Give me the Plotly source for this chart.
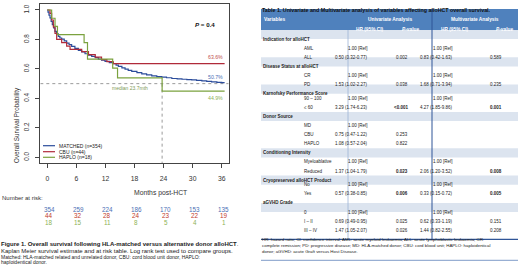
import plotly.graph_objects as go

W, H = 520, 279
def px(x): return x / W
def py(y): return 1 - y / H

# ---------------- Kaplan-Meier data ----------------
matched_t = [0, 0.15, 0.35, 0.56, 0.8, 1.04, 1.3, 1.59, 1.9, 2.28, 2.6, 2.97, 3.5, 4.0, 4.5, 5.03, 5.7,
             6.41, 7.1, 7.79, 8.5, 9.17, 9.9, 10.54, 11.2, 11.92, 12.8, 13.64, 14.2, 14.67, 15.4,
             16.05, 16.7, 17.43, 18.5, 19.5, 20.5, 21.56, 22.6, 23.63, 24.6, 25.7, 26.8, 27.8,
             28.8, 29.8, 30.8, 31.9, 32.9, 33.9, 35.0, 36.0, 36.6]
matched_s = [1.0, 0.985, 0.965, 0.946, 0.922, 0.9, 0.878, 0.855, 0.838, 0.821, 0.81, 0.802, 0.79,
             0.775, 0.765, 0.753, 0.74, 0.725, 0.715, 0.703, 0.694, 0.685, 0.676, 0.667, 0.659,
             0.651, 0.643, 0.635, 0.626, 0.617, 0.607, 0.598, 0.59, 0.583, 0.575, 0.567, 0.56,
             0.553, 0.548, 0.544, 0.54, 0.535, 0.532, 0.53, 0.528, 0.526, 0.522, 0.519, 0.515,
             0.512, 0.509, 0.507, 0.507]
cbu_t = [0, 0.56, 0.9, 1.25, 1.59, 1.94, 2.97, 4.0, 4.7, 7.1, 8.5, 9.9, 11.2, 12.3, 13.6, 36.6]
cbu_s = [1.0, 0.977, 0.932, 0.886, 0.841, 0.8, 0.778, 0.755, 0.733, 0.718, 0.697, 0.68, 0.663,
         0.65, 0.636, 0.636]
haplo_t = [0, 0.9, 1.6, 2.1, 7.6, 8.3, 13.5, 14.5, 23.7, 36.6]
haplo_s = [1.0, 0.944, 0.889, 0.833, 0.778, 0.667, 0.606, 0.539, 0.449, 0.449]

group_names = ["MATCHED (n=354)", "CBU (n=44)", "HAPLO (n=18)"]
group_colors = ["#2B4C9B", "#B02A3A", "#7BA23F"]
end_labels = ["50.7%", "63.6%", "44.9%"]
median_haplo = 23.7
p_value_text = "0.4"

risk_times = [0, 6, 12, 18, 24, 30, 36]
risk_matched = [354, 259, 224, 186, 170, 153, 135]
risk_cbu = [44, 32, 28, 24, 23, 22, 19]
risk_haplo = [18, 15, 11, 8, 5, 4, 1]
risk_colors = ["#4A6FB5", "#C0392B", "#8DB255"]

x_ticks = [0, 6, 12, 18, 24, 30, 36]
y_ticks = [0.0, 0.2, 0.4, 0.6, 0.8, 1.0]

# ---------------- Table data ----------------
row_labels = ["Indication for alloHCT", "AML", "ALL",
              "Disease Status at alloHCT", "CR", "PD",
              "Karnofsky Performance Score", "90 \u2013 100", "\u2264 60",
              "Donor Source", "MD", "CBU", "HAPLO",
              "Conditioning Intensity", "Myeloablative", "Reduced",
              "Cryopreserved alloHCT Product", "No", "Yes",
              "aGVHD Grade", "0", "I \u2013 II", "III \u2013 IV"]
row_is_section = [1, 0, 0, 1, 0, 0, 1, 0, 0, 1, 0, 0, 0, 1, 0, 0, 1, 0, 0, 1, 0, 0, 0]
uni_hr = ["", "1.00 [Ref]", "0.50 (0.32-0.77)", "", "1.00 [Ref]", "1.53 (1.02-2.27)",
          "", "1.00 [Ref]", "3.29 (1.74-6.23)", "", "1.00 [Ref]", "0.75 (0.47-1.22)",
          "1.08 (0.57-2.04)", "", "1.00 [Ref]", "1.37 (1.04-1.79)", "", "1.00 [Ref]",
          "0.57 (0.38-0.85)", "", "1.00 [Ref]", "0.69 (0.49-0.95)", "1.47 (1.05-2.07)"]
uni_p = ["", "", "0.002", "", "", "0.038", "", "", "<0.001", "", "", "0.253", "0.822",
         "", "", "0.023", "", "", "0.006", "", "", "0.025", "0.026"]
uni_sig = [0, 0, 0, 0, 0, 0, 0, 0, 1, 0, 0, 0, 0, 0, 0, 1, 0, 0, 1, 0, 0, 0, 0]
multi_hr = ["", "1.00 [Ref]", "0.83 (0.42-1.63)", "", "1.00 [Ref]", "1.68 (0.71-3.94)",
            "", "1.00 [Ref]", "4.27 (1.85-9.86)", "", "", "", "", "", "1.00 [Ref]",
            "2.06 (1.20-3.52)", "", "1.00 [Ref]", "0.33 (0.15-0.72)", "", "1.00 [Ref]",
            "0.62 (0.33-1.19)", "1.44 (0.82-2.55)"]
multi_p = ["", "", "0.589", "", "", "0.235", "", "", "0.001", "", "", "", "", "", "",
           "0.008", "", "", "0.005", "", "", "0.151", "0.208"]
multi_sig = [0, 0, 0, 0, 0, 0, 0, 0, 1, 0, 0, 0, 0, 0, 0, 1, 0, 0, 1, 0, 0, 0, 0]

table_title = "Table 1. Univariate and Multivariate analysis of variables affecting alloHCT overall survival."
footnote_lines = [
    "HR: hazard ratio; CI: confidence interval; AML: acute myeloid leukaemia; ALL: acute lymphoblastic leukaemia; CR:",
    "complete remission; PD: progressive disease; MD: HLA-matched donor; CBU: cord blood unit; HAPLO: haploidentical",
    "donor; aGVHD: acute Graft versus Host Disease.",
]
caption_lines = [
    "<b>Figure 1. Overall survival following HLA-matched versus alternative donor alloHCT</b>.",
    "Kaplan Meier survival estimate and at risk table. Log rank test used to compare groups.",
    "Matched: HLA-matched related and unrelated donor, CBU: cord blood unit donor, HAPLO:",
    "haploidentical donor.",
]

FONT = "Liberation Sans"
fig = go.Figure()

# reference lines (median / 50%)
fig.add_trace(go.Scatter(x=[-1.44, 37.44], y=[0.5, 0.5], mode="lines",
                         line=dict(color="#9a9a9a", width=1, dash="dot"), hoverinfo="skip", showlegend=False))
fig.add_trace(go.Scatter(x=[median_haplo, median_haplo], y=[0.5, -0.04], mode="lines",
                         line=dict(color="#9a9a9a", width=1, dash="dot"), hoverinfo="skip", showlegend=False))

for t, s, c, n in [(matched_t, matched_s, group_colors[0], group_names[0]),
                   (cbu_t, cbu_s, group_colors[1], group_names[1]),
                   (haplo_t, haplo_s, group_colors[2], group_names[2])]:
    fig.add_trace(go.Scatter(x=t, y=s, mode="lines", name=n, showlegend=False,
                             line=dict(color=c, width=1.2, shape="hv"), hoverinfo="skip"))

ann = []
shapes = []

# end-of-curve labels
ann.append(dict(x=36.6, y=0.68, xref="x", yref="y", text=end_labels[1], showarrow=False,
                xanchor="right", font=dict(family=FONT, size=5.2, color="#C0504D")))
ann.append(dict(x=36.6, y=0.544, xref="x", yref="y", text=end_labels[0], showarrow=False,
                xanchor="right", font=dict(family=FONT, size=5.2, color="#4A6FB5")))
ann.append(dict(x=36.6, y=0.405, xref="x", yref="y", text=end_labels[2], showarrow=False,
                xanchor="right", font=dict(family=FONT, size=5.2, color="#8DB255")))
ann.append(dict(x=median_haplo - 2.5, y=0.469, xref="x", yref="y",
                text="median %smth" % median_haplo, showarrow=False, xanchor="right",
                font=dict(family=FONT, size=5.0, color="#7E9A55")))
ann.append(dict(x=px(205), y=py(19), xref="paper", yref="paper",
                text="<b><i>P</i> = %s</b>" % p_value_text, showarrow=False,
                font=dict(family=FONT, size=6.2, color="#111")))

# legend (manual, compact)
for i, (n, c) in enumerate(zip(group_names, group_colors)):
    yy = [145.7, 151.7, 157.3][i]
    shapes.append(dict(type="line", xref="paper", yref="paper", x0=px(43), x1=px(55),
                       y0=py(yy), y1=py(yy), line=dict(color=c, width=1.2)))
    ann.append(dict(x=px(56.5), y=py(yy), xref="paper", yref="paper", text=n, showarrow=False,
                    xanchor="left", font=dict(family=FONT, size=5, color="#222")))

# axis titles
ann.append(dict(x=px(11), y=py(85), xref="paper", yref="paper", text="Overall Survival Probability",
                textangle=-90, showarrow=False, font=dict(family=FONT, size=6.3, color="#333")))
ann.append(dict(x=px(132), y=py(199), xref="paper", yref="paper", text="Months post-HCT",
                showarrow=False, font=dict(family=FONT, size=6.8, color="#333")))

# risk table
ann.append(dict(x=px(0), y=py(203), xref="paper", yref="paper", text="Number at risk:",
                showarrow=False, xanchor="left", font=dict(family=FONT, size=6, color="#333")))
for r, (vals, c) in enumerate(zip([risk_matched, risk_cbu, risk_haplo], risk_colors)):
    yy = [214.5, 221, 227.5][r]
    for t, v in zip(risk_times, vals):
        ann.append(dict(x=t + 0.4, y=py(yy), xref="x", yref="paper", text=str(v), showarrow=False,
                        font=dict(family=FONT, size=6.3, color=c)))

# caption
cap_y = [249, 255.5, 261.5, 267]
cap_sz = [6.0, 6.0, 5.0, 5.0]
for line, yy, sz in zip(caption_lines, cap_y, cap_sz):
    ann.append(dict(x=px(-1), y=py(yy), xref="paper", yref="paper", text=line, showarrow=False,
                    xanchor="left", font=dict(family=FONT, size=sz, color="#222")))

# ---------------- Table ----------------
TL, TR = 261, 518
HY0, HY1 = 9, 30
ROW_H = 9.1
HEADER_BLUE = "#4F81BD"
SECTION_FILL = "#DCE4EF"

ann.append(dict(x=px(260), y=py(4.5), xref="paper", yref="paper", text="<b>%s</b>" % table_title,
                showarrow=False, xanchor="left", font=dict(family=FONT, size=5.3, color="#111")))
shapes.append(dict(type="rect", xref="paper", yref="paper", x0=px(TL), x1=px(TR), y0=py(HY1), y1=py(HY0),
                   fillcolor=HEADER_BLUE, line=dict(width=0), layer="below"))
hdr_font = dict(family=FONT, size=4.8, color="white")
for txt, x, yy, anc in [("<b>Variables</b>", 262, 14.5, "left"),
                        ("<b>Univariate Analysis</b>", 390, 14.5, "center"),
                        ("<b>Multivariate Analysis</b>", 475, 14.5, "center"),
                        ("<b>HR (95% CI)</b>", 370, 25, "center"),
                        ("<b><i>P</i>-value</b>", 410, 25, "center"),
                        ("<b>HR (95% CI)</b>", 455, 25, "center"),
                        ("<b><i>P</i>-value</b>", 504, 25, "center")]:
    ann.append(dict(x=px(x), y=py(yy), xref="paper", yref="paper", text=txt, showarrow=False,
                    xanchor=anc, font=hdr_font))

body_font = dict(family=FONT, size=4.5, color="#222")
for i, lab in enumerate(row_labels):
    y0 = HY1 + i * ROW_H
    yc = y0 + ROW_H / 2
    if row_is_section[i]:
        shapes.append(dict(type="rect", xref="paper", yref="paper", x0=px(TL), x1=px(TR),
                           y0=py(y0 + ROW_H), y1=py(y0), fillcolor=SECTION_FILL,
                           line=dict(width=0), layer="below"))
        ann.append(dict(x=px(261), y=py(yc), xref="paper", yref="paper", text="<b>%s</b>" % lab,
                        showarrow=False, xanchor="left", font=body_font))
        continue
    ann.append(dict(x=px(302), y=py(yc), xref="paper", yref="paper", text=lab, showarrow=False,
                    xanchor="left", font=body_font))
    for txt, x, sig in [(uni_hr[i], 370, 0), (uni_p[i], 410, uni_sig[i]),
                        (multi_hr[i], 455, 0), (multi_p[i], 504, multi_sig[i])]:
        if txt:
            t = txt.replace("<", "&lt;")
            ann.append(dict(x=px(x), y=py(yc), xref="paper", yref="paper",
                            text=("<b>%s</b>" % t) if sig else t, showarrow=False, font=body_font))

TB = HY1 + len(row_labels) * ROW_H
shapes.append(dict(type="line", xref="paper", yref="paper", x0=px(348), x1=px(348), y0=py(TB), y1=py(HY1),
                   line=dict(color="#9DB3D6", width=0.8)))
shapes.append(dict(type="line", xref="paper", yref="paper", x0=px(432), x1=px(432), y0=py(TB), y1=py(HY0),
                   line=dict(color="#2F5597", width=1)))
shapes.append(dict(type="line", xref="paper", yref="paper", x0=px(TL), x1=px(TR), y0=py(TB), y1=py(TB),
                   line=dict(color="#2F5597", width=1.3)))
for k, line in enumerate(footnote_lines):
    ann.append(dict(x=px(260), y=py(TB + 5 + 6 * k), xref="paper", yref="paper", text=line,
                    showarrow=False, xanchor="left", font=dict(family=FONT, size=4.4, color="#222")))
shapes.append(dict(type="line", xref="paper", yref="paper", x0=px(TL), x1=px(TR),
                   y0=py(TB + 21), y1=py(TB + 21), line=dict(color="#7F9CC9", width=1)))

fig.update_layout(
    width=W, height=H, margin=dict(l=0, r=0, t=0, b=0),
    paper_bgcolor="white", plot_bgcolor="white",
    annotations=ann, shapes=shapes,
    xaxis=dict(domain=[px(40.3), px(228.7)], range=[-1.44, 37.44], tickvals=x_ticks,
               ticks="outside", ticklen=4, tickcolor="#444", showline=True, mirror=True,
               linecolor="#444", linewidth=1, showgrid=False, zeroline=False,
               tickfont=dict(family=FONT, size=6.8, color="#333"), ticklabelstandoff=5),
    yaxis=dict(domain=[py(163.2), py(4.1)], range=[-0.04, 1.04], tickvals=y_ticks,
               ticktext=["%.1f" % v for v in y_ticks], tickangle=-90,
               ticks="outside", ticklen=4, tickcolor="#444", showline=True, mirror=True,
               linecolor="#444", linewidth=1, showgrid=False, zeroline=False,
               tickfont=dict(family=FONT, size=6.3, color="#333"), ticklabelstandoff=4),
)

fig.write_html("out.html", config={"displayModeBar": False},
               post_script="document.body.style.margin='0';document.body.style.overflow='hidden';")
